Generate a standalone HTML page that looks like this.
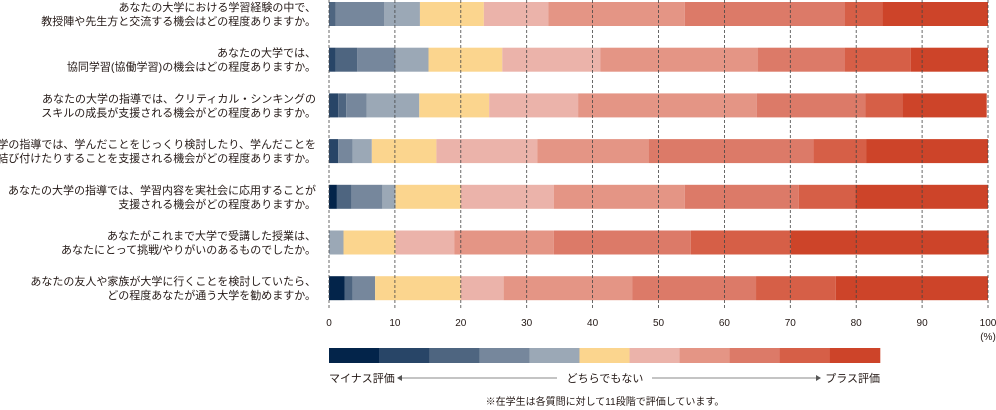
<!DOCTYPE html>
<html><head><meta charset="utf-8">
<style>
body{margin:0;background:#fff;width:996px;height:410px;overflow:hidden}
svg{display:block;font-family:"Liberation Sans","Noto Sans CJK JP",sans-serif}
</style></head>
<body>
<svg id="chart" width="996" height="410" viewBox="0 0 996 410" xmlns="http://www.w3.org/2000/svg">
<g id="labels"></g>
<g id="bars"></g>
<g id="grid"></g>
<g id="axis"></g>
<g id="legend"></g>
</svg>
<script>
const questions = [
 ["あなたの大学における学習経験の中で、","教授陣や先生方と交流する機会はどの程度ありますか。"],
 ["あなたの大学では、","協同学習(協働学習)の機会はどの程度ありますか。"],
 ["あなたの大学の指導では、クリティカル・シンキングの","スキルの成長が支援される機会がどの程度ありますか。"],
 ["あなたの大学の指導では、学んだことをじっくり検討したり、学んだことを","相互に結び付けたりすることを支援される機会がどの程度ありますか。"],
 ["あなたの大学の指導では、学習内容を実社会に応用することが","支援される機会がどの程度ありますか。"],
 ["あなたがこれまで大学で受講した授業は、","あなたにとって挑戦/やりがいのあるものでしたか。"],
 ["あなたの友人や家族が大学に行くことを検討していたら、","どの程度あなたが通う大学を勧めますか。"]
];
const row1 = [0,0,1.0,7.4,5.4,9.7,9.8,20.7,24.3,5.7,16.0];
const row2 = [0,1.0,3.3,5.8,5.0,11.2,14.9,23.9,13.2,10.0,11.7];
const row3 = [0,1.4,1.2,3.1,8.0,10.6,13.5,27.1,16.5,5.6,12.8];
const row4 = [0,1.4,0,2.2,2.9,9.8,15.3,16.9,25.0,8.0,18.5];
const row5 = [1.2,0,2.2,4.7,2.0,9.9,14.1,19.9,17.3,8.6,20.1];
const row6 = [0,0,0,0,2.2,7.9,8.9,15.1,20.8,15.2,30.0];
const row7 = [2.35,0,1.25,3.4,0,13.0,6.5,19.5,18.8,12.1,23.1];
const rows = [row1,row2,row3,row4,row5,row6,row7];
const ticks = [0,10,20,30,40,50,60,70,80,90,100];
const colors = ["#03244a","#284567","#4e6580","#76879c","#9ba8b6","#fbd58e","#ebb3aa","#e49585","#dc7a68","#d65f47","#cd4429"];

const NS="http://www.w3.org/2000/svg";
const x0=329, x1=988;
const xs = v => x0 + (x1-x0)*v/100;
const rowTop = i => 2 + i*45.7;
const barH = 24;
function mk(tag, attrs, parent){const e=document.createElementNS(NS,tag);for(const k in attrs)e.setAttribute(k,attrs[k]);parent.appendChild(e);return e;}

const gL=document.getElementById('labels'), gB=document.getElementById('bars'), gG=document.getElementById('grid'), gA=document.getElementById('axis'), gLe=document.getElementById('legend');

rows.forEach((r,i)=>{
  const cy = rowTop(i)+barH/2;
  const t = mk('text',{x:316,'text-anchor':'end','font-size':11,fill:'#231815'},gL);
  
  
  questions[i].forEach((line,j)=>{const ts=mk('tspan',{x:316,y:cy-3+j*14},t);ts.textContent=line;});
  let acc=0;
  r.forEach((v,k)=>{
    if(v<=0){return;}
    const rc = mk('rect',{x:xs(acc),y:rowTop(i),width:xs(acc+v)-xs(acc),height:barH,fill:colors[k]},gB);
    
    
    acc+=v;
  });
});

ticks.forEach(t=>{
  const l = mk('line',{x1:xs(t),x2:xs(t),y1:0,y2:310,stroke:'#444','stroke-width':0.8,'stroke-dasharray':'3,2'},gG);
  
  
  const tx = mk('text',{x:xs(t),y:326,'text-anchor':'middle','font-size':10,fill:'#231815'},gA);
  
  
  tx.textContent=t;
});
const pct = mk('text',{x:xs(100),y:340,'text-anchor':'middle','font-size':10,fill:'#231815'},gA);


pct.textContent='(%)';

const lw=(880-329)/11;
colors.forEach((c,k)=>{
  const r = mk('rect',{x:329+k*lw,y:348,width:lw+0.3,height:15,fill:c},gLe);
  
  
});
const lt=[["マイナス評価",329,'start'],["どちらでもない",605,'middle'],["プラス評価",880,'end']];
lt.forEach(a=>{
  const t=mk('text',{x:a[1],y:382,'text-anchor':a[2],'font-size':11,fill:'#231815'},gLe);
  
  
  t.textContent=a[0];
});
const a1=mk('line',{x1:398,x2:557,y1:378,y2:378,stroke:'#888','stroke-width':1},gLe);


mk('polygon',{points:'397,378 402,375 402,381',fill:'#555'},gLe);
const a2=mk('line',{x1:652,x2:820,y1:378,y2:378,stroke:'#888','stroke-width':1},gLe);


mk('polygon',{points:'821,378 816,375 816,381',fill:'#555'},gLe);
const note=mk('text',{x:605,y:405,'text-anchor':'middle','font-size':10,fill:'#231815'},gLe);


note.textContent='※在学生は各質問に対して11段階で評価しています。';
</script>
</body></html>
